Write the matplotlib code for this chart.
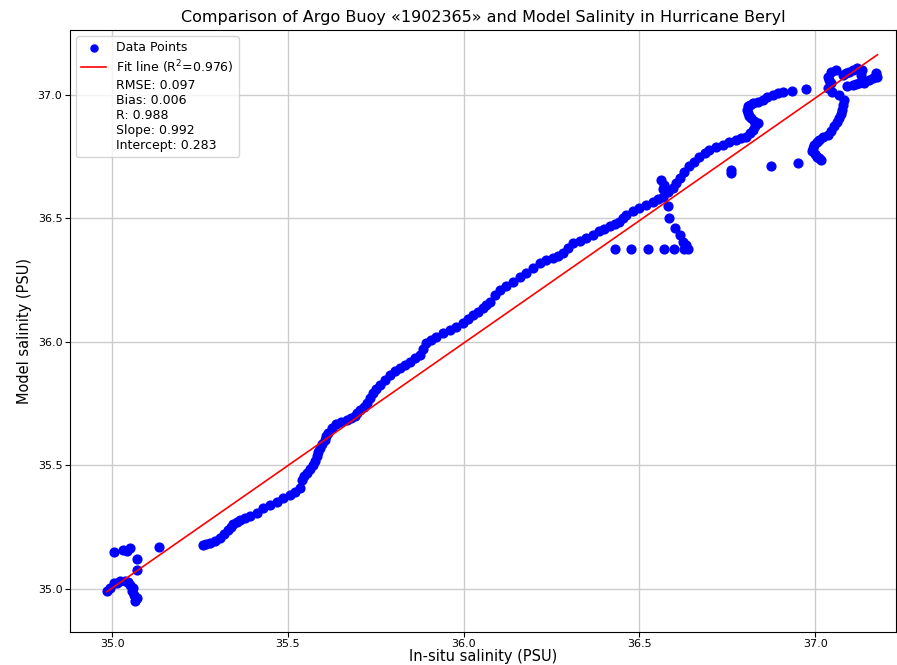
import matplotlib.pyplot as plt
import numpy as np

# in-situ (Argo) salinity vs model salinity
insitu = [
    # cluster near 35.0
    34.985, 34.994, 35.004, 35.014, 35.023, 35.037, 35.045, 35.051, 35.060, 35.056,
    35.061, 35.070, 35.065, 35.070, 35.070, 35.004, 35.032, 35.042, 35.051, 35.134,
    # main curve
    35.259, 35.268, 35.278, 35.292, 35.307, 35.318, 35.330, 35.337, 35.344, 35.354,
    35.364, 35.378, 35.392, 35.411, 35.430, 35.449, 35.468, 35.487, 35.506, 35.520,
    35.534, 35.539, 35.545, 35.553, 35.562, 35.572, 35.577, 35.582, 35.586, 35.591,
    35.598, 35.605, 35.609, 35.614, 35.626, 35.638, 35.652, 35.667, 35.679, 35.690,
    35.697, 35.705, 35.715, 35.724, 35.733, 35.742, 35.751, 35.761, 35.775, 35.790,
    35.804, 35.818, 35.832, 35.847, 35.861, 35.875, 35.885, 35.894, 35.908, 35.922,
    35.941, 35.960, 35.979, 35.998, 36.012, 36.026, 36.040, 36.055, 36.064, 36.074,
    36.088, 36.102, 36.121, 36.140, 36.159, 36.178, 36.197, 36.216, 36.235, 36.254,
    36.268, 36.282, 36.297, 36.311, 36.330, 36.349, 36.368, 36.386, 36.400, 36.415,
    36.429, 36.443, 36.452, 36.462, 36.481, 36.500, 36.519, 36.538, 36.552, 36.567,
    36.581, 36.595, 36.605, 36.614, 36.628, 36.642, 36.656, 36.670, 36.685, 36.699,
    36.718, 36.737, 36.756, 36.775, 36.789, 36.803, 36.813, 36.822, 36.830, 36.836,
    36.827, 36.817, 36.812, 36.808, 36.806, 36.808, 36.815, 36.822, 36.836, 36.850,
    36.864, 36.879, 36.893, 36.907, 36.935, 36.974,
    # upper right knot
    37.035, 37.045, 37.035, 37.040, 37.045, 37.059, 37.078, 37.088, 37.097, 37.108,
    37.120, 37.134, 37.130, 37.172, 37.177, 37.165, 37.153, 37.140, 37.125, 37.115,
    37.106, 37.091,
    # descending arm
    37.049, 37.068, 37.082, 37.080, 37.077, 37.073, 37.068, 37.061, 37.054, 37.045,
    37.035, 37.023, 37.011, 37.004, 36.997, 36.994, 36.992, 36.998, 37.006, 37.011,
    37.016,
    # flat row and vertical run below the curve
    36.429, 36.476, 36.524, 36.571, 36.597, 36.628, 36.637,
    36.580, 36.585, 36.602, 36.614, 36.623, 36.631,
    36.562, 36.571, 36.568,
    # scattered points
    36.760, 36.760, 36.874, 36.950,
]
model = [
    34.989, 35.004, 35.023, 35.024, 35.030, 35.030, 35.028, 35.016, 35.004, 34.989,
    34.976, 34.962, 34.949, 35.077, 35.120, 35.149, 35.158, 35.151, 35.165, 35.171,
    35.178, 35.180, 35.186, 35.195, 35.206, 35.222, 35.239, 35.250, 35.263, 35.272,
    35.279, 35.286, 35.293, 35.308, 35.327, 35.340, 35.353, 35.366, 35.381, 35.393,
    35.408, 35.441, 35.455, 35.468, 35.485, 35.502, 35.519, 35.536, 35.553, 35.570,
    35.587, 35.603, 35.617, 35.630, 35.650, 35.668, 35.677, 35.684, 35.690, 35.698,
    35.710, 35.725, 35.738, 35.752, 35.772, 35.792, 35.810, 35.826, 35.846, 35.866,
    35.880, 35.894, 35.908, 35.920, 35.934, 35.947, 35.972, 35.995, 36.008, 36.021,
    36.035, 36.049, 36.062, 36.076, 36.093, 36.109, 36.122, 36.136, 36.150, 36.163,
    36.188, 36.211, 36.228, 36.244, 36.261, 36.278, 36.299, 36.319, 36.330, 36.339,
    36.349, 36.359, 36.380, 36.400, 36.410, 36.420, 36.433, 36.447, 36.457, 36.467,
    36.477, 36.487, 36.500, 36.514, 36.528, 36.541, 36.555, 36.568, 36.578, 36.588,
    36.605, 36.622, 36.642, 36.663, 36.687, 36.710, 36.730, 36.750, 36.764, 36.777,
    36.788, 36.798, 36.808, 36.818, 36.824, 36.831, 36.845, 36.858, 36.872, 36.885,
    36.896, 36.906, 36.916, 36.926, 36.940, 36.953, 36.960, 36.966, 36.973, 36.980,
    36.990, 37.000, 37.007, 37.013, 37.017, 37.023,
    37.027, 37.047, 37.074, 37.060, 37.094, 37.101, 37.081, 37.087, 37.094, 37.100,
    37.108, 37.101, 37.081, 37.088, 37.074, 37.068, 37.061, 37.050, 37.047, 37.043,
    37.040, 37.036,
    37.013, 37.000, 36.980, 36.960, 36.939, 36.922, 36.906, 36.889, 36.872, 36.855,
    36.838, 36.828, 36.818, 36.808, 36.798, 36.785, 36.771, 36.760, 36.750, 36.743,
    36.737,
    36.375, 36.375, 36.375, 36.375, 36.375, 36.375, 36.375,
    36.548, 36.501, 36.460, 36.433, 36.406, 36.393,
    36.656, 36.636, 36.617,
    36.696, 36.683, 36.710, 36.726,
]

slope = 0.992
intercept = 0.283
stats_text = "RMSE: 0.097\nBias: 0.006\nR: 0.988\nSlope: 0.992\nIntercept: 0.283"

x = np.array(insitu)
y = np.array(model)

fig = plt.figure(figsize=(8.97, 6.65), dpi=100)
ax = fig.add_axes([0.078, 0.05, 0.921, 0.905])

ax.scatter(x, y, color='blue', s=40, label='Data Points', zorder=2)
xfit = np.array([x.min(), x.max()])
ax.plot(xfit, slope * xfit + intercept, color='red', lw=1.2,
        label='Fit line (R$^2$=0.976)', zorder=3)
ax.plot([], [], ' ', label=stats_text)

ax.set_xlim(34.88, 37.23)
ax.set_ylim(34.826, 37.263)
ax.set_xticks([35.0, 35.5, 36.0, 36.5, 37.0])
ax.set_yticks([35.0, 35.5, 36.0, 36.5, 37.0])
ax.tick_params(labelsize=8, pad=2)
ax.grid(True, color='#cccccc', lw=1)
ax.set_axisbelow(True)

ax.set_xlabel('In-situ salinity (PSU)', fontsize=10.5, labelpad=0)
ax.set_ylabel('Model salinity (PSU)', fontsize=10.5)
ax.set_title('Comparison of Argo Buoy \u00ab1902365\u00bb and Model Salinity in Hurricane Beryl',
             fontsize=11.5, pad=6)
ax.legend(loc='upper left', fontsize=9, handletextpad=0.8, labelspacing=0.3,
          markerscale=0.8)

fig.savefig('out.png', dpi=100)
